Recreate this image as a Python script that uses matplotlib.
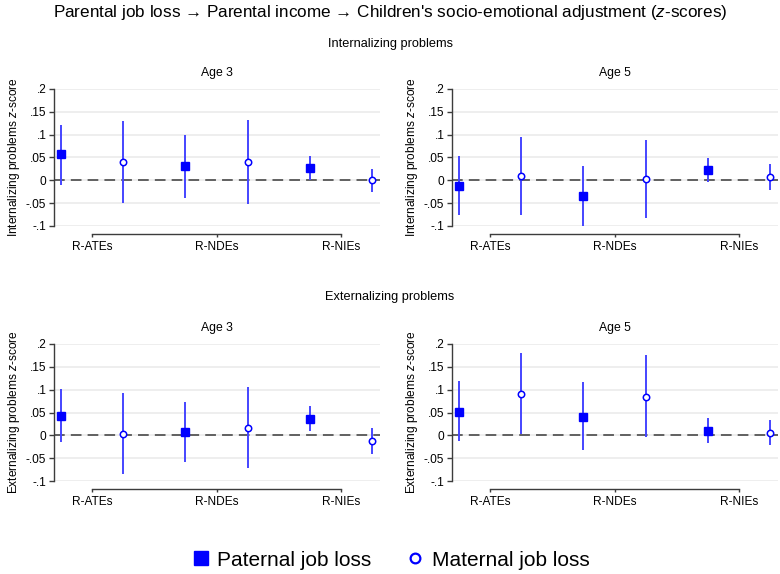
import matplotlib
matplotlib.use("Agg")
import matplotlib.pyplot as plt
from matplotlib.lines import Line2D

plt.rcParams['font.family'] = ['Liberation Sans', 'DejaVu Sans']
plt.rcParams['mathtext.fontset'] = 'custom'
plt.rcParams['mathtext.rm'] = 'Liberation Sans'
plt.rcParams['mathtext.it'] = 'Liberation Sans:italic'

# ── estimates (point, lower CI, upper CI) ────────────────────────────────────
effects = ["R-ATEs", "R-NDEs", "R-NIEs"]
yticks = [-0.1, -0.05, 0, 0.05, 0.1, 0.15, 0.2]
ytick_labels = ["-.1", "-.05", "0", ".05", ".1", ".15", ".2"]

# internalizing, age 3
int3_pat_est = [0.057, 0.031, 0.026]
int3_pat_lo  = [-0.010, -0.039, 0.000]
int3_pat_hi  = [0.122, 0.099, 0.053]
int3_mat_est = [0.041, 0.041, 0.000]
int3_mat_lo  = [-0.050, -0.052, -0.025]
int3_mat_hi  = [0.130, 0.133, 0.025]

# internalizing, age 5
int5_pat_est = [-0.013, -0.035, 0.022]
int5_pat_lo  = [-0.077, -0.100, -0.004]
int5_pat_hi  = [0.053, 0.031, 0.048]
int5_mat_est = [0.010, 0.004, 0.007]
int5_mat_lo  = [-0.075, -0.082, -0.021]
int5_mat_hi  = [0.095, 0.089, 0.036]

# externalizing, age 3
ext3_pat_est = [0.042, 0.008, 0.036]
ext3_pat_lo  = [-0.015, -0.058, 0.009]
ext3_pat_hi  = [0.101, 0.074, 0.064]
ext3_mat_est = [0.004, 0.016, -0.012]
ext3_mat_lo  = [-0.085, -0.072, -0.041]
ext3_mat_hi  = [0.093, 0.105, 0.015]

# externalizing, age 5
ext5_pat_est = [0.052, 0.041, 0.010]
ext5_pat_lo  = [-0.012, -0.032, -0.016]
ext5_pat_hi  = [0.118, 0.116, 0.037]
ext5_mat_est = [0.091, 0.085, 0.005]
ext5_mat_lo  = [0.002, -0.004, -0.021]
ext5_mat_hi  = [0.180, 0.175, 0.033]

BLUE = "#0000ff"
CI_BLUE = "#4545ff"
AXIS = "#3c3c3c"

fig = plt.figure(figsize=(7.8, 5.74), dpi=100)

W, H = 780, 574
def add_panel(left_px, top_px):
    return fig.add_axes([left_px / W, 1 - (top_px + 137) / H, 326 / W, 137 / H])

panels = [
    (add_panel(54, 89), "Age 3", "Internalizing problems $\\it{z}$-score",
     (int3_pat_est, int3_pat_lo, int3_pat_hi, int3_mat_est, int3_mat_lo, int3_mat_hi)),
    (add_panel(452, 89), "Age 5", "Internalizing problems $\\it{z}$-score",
     (int5_pat_est, int5_pat_lo, int5_pat_hi, int5_mat_est, int5_mat_lo, int5_mat_hi)),
    (add_panel(54, 344), "Age 3", "Externalizing problems $\\it{z}$-score",
     (ext3_pat_est, ext3_pat_lo, ext3_pat_hi, ext3_mat_est, ext3_mat_lo, ext3_mat_hi)),
    (add_panel(452, 344), "Age 5", "Externalizing problems $\\it{z}$-score",
     (ext5_pat_est, ext5_pat_lo, ext5_pat_hi, ext5_mat_est, ext5_mat_lo, ext5_mat_hi)),
]

pos = [1, 2, 3]
pat_x = [p - 0.25 for p in pos]
mat_x = [p + 0.25 for p in pos]

for ax, title, ylabel, (pe, plo, phi, me, mlo, mhi) in panels:
    for y in yticks:
        ax.axhline(y, color="#eaeaea", lw=1.1, zorder=0)
    ax.axhline(0, color="#3a3a3a", lw=1.1, dashes=(7, 4), zorder=1)

    ax.vlines(pat_x, plo, phi, color=CI_BLUE, lw=1.4, zorder=2)
    ax.vlines(mat_x, mlo, mhi, color=CI_BLUE, lw=1.4, zorder=2)
    ax.plot(pat_x, pe, ls="none", marker="s", ms=5.2, color=BLUE, zorder=3)
    ax.plot(mat_x, me, ls="none", marker="o", ms=4.6, mfc="white",
            mec=BLUE, mew=1.1, zorder=3)

    ax.set_xlim(0.695, 3.313)
    ax.set_ylim(-0.1, 0.2)
    ax.set_yticks(yticks)
    ax.set_yticklabels(ytick_labels)
    ax.set_xticks(pos)
    ax.set_xticklabels(effects)

    for s in ("top", "right"):
        ax.spines[s].set_visible(False)
    ax.spines["left"].set_color(AXIS)
    ax.spines["left"].set_linewidth(1.0)
    ax.spines["bottom"].set_color(AXIS)
    ax.spines["bottom"].set_linewidth(1.0)
    ax.spines["bottom"].set_position(("outward", 6))
    ax.spines["bottom"].set_bounds(1, 3)

    ax.tick_params(axis="y", direction="out", length=3.5, width=1.0,
                   color=AXIS, labelsize=8.6, pad=2)
    ax.tick_params(axis="x", direction="out", length=2.5, width=1.0,
                   color=AXIS, labelsize=8.6, pad=2)
    ax.set_title(title, fontsize=8.8, pad=9)
    ax.set_ylabel(ylabel, fontsize=8.6, labelpad=3)

fig.text(0.5, 1 - 12 / H, "Parental job loss \u2192 Parental income \u2192 "
         "Children's socio-emotional adjustment ($\\it{z}$-scores)",
         ha="center", va="center", fontsize=12.3)
fig.text(0.5, 1 - 44 / H, "Internalizing problems", ha="center", va="center",
         fontsize=9.2)
fig.text(0.5, 1 - 297 / H, "Externalizing problems", ha="center", va="center",
         fontsize=9.2)

handles = [
    Line2D([], [], ls="none", marker="s", ms=10, color=BLUE,
           label="Paternal job loss"),
    Line2D([], [], ls="none", marker="o", ms=7, mfc="white", mec=BLUE,
           mew=1.6, label="Maternal job loss"),
]
fig.legend(handles=handles, loc="center", bbox_to_anchor=(0.5, 1 - 560 / H),
           ncol=2, frameon=False, fontsize=15, handletextpad=0.3,
           columnspacing=1.6, handlelength=1.0)

fig.savefig("out.png", dpi=100)
